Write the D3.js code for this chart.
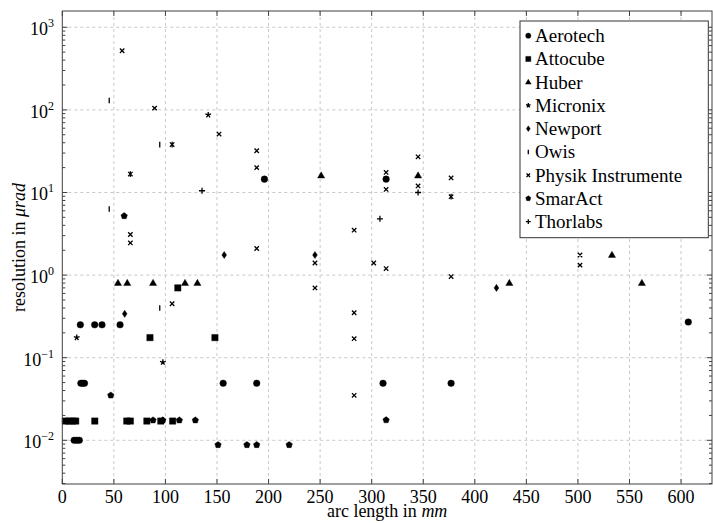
<!DOCTYPE html>
<html>
<head>
<meta charset="utf-8">
<script src="https://cdn.jsdelivr.net/npm/d3@7"></script>
<style>
body { margin: 0; background: #fff; }
svg { font-family: "Liberation Serif", "Times New Roman", serif; }
</style>
</head>
<body>
<script>

// arc length in mm, resolution in µrad
var manufacturers = ["Aerotech", "Attocube", "Huber", "Micronix", "Newport", "Owis", "Physik Instrumente", "SmarAct", "Thorlabs"];
var markTypes = ["circle", "square", "triangle", "star", "diamond", "bar", "x", "pentagon", "plus"];

var aerotech = [[17.5,0.25],[31.4,0.25],[38.5,0.25],[56,0.25],
	[18,0.049],[19.8,0.049],[21.5,0.049],[156,0.049],[188.5,0.049],[311,0.049],[377,0.049],
	[11.5,0.01],[14,0.01],[16.5,0.01],[196,14.5],[314,14.5],[607,0.27]];
var attocube = [[3,0.0171],[6.5,0.0171],[10,0.0171],[13,0.0171],[31.5,0.0171],[62.5,0.0171],[66,0.0171],
	[82,0.0171],[95.5,0.0171],[107,0.0171],[85,0.175],[148,0.175],[112,0.7]];
var huber = [[54,0.8],[63,0.8],[88,0.8],[119,0.8],[131,0.8],[251,16],[345,16],[433.5,0.8],[533,1.75],[562,0.8]];
var micronix = [[14,0.175],[97.5,0.088],[141.5,87]];
var newport = [[60.5,0.34],[157,1.75],[245,1.75],[421,0.7]];
var owis = [[45.5,130],[45.5,6.3],[94.5,38],[94.5,0.4],[66,16.7],[106.5,38],[377,8.9]];
var physik = [[58,520],[89.5,105],[152,51],[106.5,38],[66,16.7],[66,3.1],[66,2.45],[106.5,0.45],
	[188.5,32],[188.5,20],[188.5,2.1],[314,17.5],[314,10.9],[314,1.2],[345,27],[345,12],
	[377,15],[377,8.9],[377,0.96],[283,3.5],[283,0.35],[283,0.17],[283,0.035],
	[245,1.4],[245,0.7],[302,1.4],[502,1.75],[502,1.32]];
var smaract = [[60,5.2],[47,0.035],[88,0.0175],[97.5,0.0175],[113.5,0.0175],[129,0.0175],[314,0.0176],
	[151,0.0088],[179,0.0088],[188.5,0.0088],[220,0.0088]];
var thorlabs = [[135.5,10.5],[308,4.8],[345,10]];

var seriesData = [aerotech, attocube, huber, micronix, newport, owis, physik, smaract, thorlabs];

var xTicks = [0, 50, 100, 150, 200, 250, 300, 350, 400, 450, 500, 550, 600];
var yTicks = [1e-2, 1e-1, 1, 10, 100, 1000];
var yTickExp = ["\u22122", "\u22121", "0", "1", "2", "3"];

var width = 713, height = 523;
var pLeft = 62.3, pRight = 712, pTop = 11, pBottom = 484;

var x = d3.scaleLinear().domain([0, 630]).range([pLeft, pRight]);
var y = d3.scaleLog().domain([Math.pow(10, -2.529), Math.pow(10, 3.197)]).range([pBottom, pTop]);

var svg = d3.select("body").append("svg")
	.attr("width", width)
	.attr("height", height);

// grid
var grid = svg.append("g")
	.attr("stroke", "#c8c8c8")
	.attr("stroke-width", 1)
	.attr("stroke-dasharray", "3,3");
grid.selectAll(".gx").data(xTicks.slice(1)).enter().append("line")
	.attr("x1", function(d) { return x(d); })
	.attr("x2", function(d) { return x(d); })
	.attr("y1", pTop).attr("y2", pBottom);
grid.selectAll(".gy").data(yTicks).enter().append("line")
	.attr("x1", pLeft).attr("x2", pRight)
	.attr("y1", function(d) { return y(d); })
	.attr("y2", function(d) { return y(d); });

// mark shapes
var markPath = function(type, s) {
	var p = d3.path();
	if (type == "circle") {
		p.arc(0, 0, 3.3 * s, 0, 2 * Math.PI);
	} else if (type == "square") {
		p.rect(-3.2 * s, -3.2 * s, 6.4 * s, 6.4 * s);
	} else if (type == "triangle") {
		p.moveTo(0, -3.8 * s); p.lineTo(3.6 * s, 2.4 * s); p.lineTo(-3.6 * s, 2.4 * s); p.closePath();
	} else if (type == "diamond") {
		p.moveTo(0, -3.6 * s); p.lineTo(2.4 * s, 0); p.lineTo(0, 3.6 * s); p.lineTo(-2.4 * s, 0); p.closePath();
	} else if (type == "pentagon") {
		for (var i = 0; i < 5; i++) {
			var a = -Math.PI / 2 + i * 2 * Math.PI / 5;
			if (i == 0) p.moveTo(3.4 * s * Math.cos(a), 3.4 * s * Math.sin(a));
			else p.lineTo(3.4 * s * Math.cos(a), 3.4 * s * Math.sin(a));
		}
		p.closePath();
	} else if (type == "star") {
		for (var j = 0; j < 5; j++) {
			var b = -Math.PI / 2 + j * 2 * Math.PI / 5;
			p.moveTo(0, 0); p.lineTo(3 * s * Math.cos(b), 3 * s * Math.sin(b));
		}
	} else if (type == "bar") {
		p.moveTo(0, -2.8 * s); p.lineTo(0, 2.8 * s);
	} else if (type == "x") {
		p.moveTo(-2.2 * s, -2.2 * s); p.lineTo(2.2 * s, 2.2 * s);
		p.moveTo(-2.2 * s, 2.2 * s); p.lineTo(2.2 * s, -2.2 * s);
	} else if (type == "plus") {
		p.moveTo(-3 * s, 0); p.lineTo(3 * s, 0);
		p.moveTo(0, -3 * s); p.lineTo(0, 3 * s);
	}
	return p.toString();
};

var isFilled = function(type) {
	return ["circle", "square", "triangle", "diamond", "pentagon"].indexOf(type) >= 0;
};

var drawMarks = function(g, type, pts, s) {
	g.selectAll("path").data(pts).enter().append("path")
		.attr("transform", function(d) { return "translate(" + d[0] + "," + d[1] + ")"; })
		.attr("d", markPath(type, s))
		.attr("fill", isFilled(type) ? "#000" : "none")
		.attr("stroke", "#000")
		.attr("stroke-width", isFilled(type) ? 0.4 : 1.3);
};

var plot = svg.append("g");
for (var k = 0; k < seriesData.length; k++) {
	var pts = seriesData[k].map(function(d) { return [x(d[0]), y(d[1])]; });
	drawMarks(plot.append("g"), markTypes[k], pts, 1);
}

// frame and ticks
var axis = svg.append("g").attr("stroke", "#404040").attr("stroke-width", 1).attr("fill", "none");
axis.append("rect").attr("x", pLeft).attr("y", pTop).attr("width", pRight - pLeft).attr("height", pBottom - pTop);

axis.selectAll(".tx").data(xTicks).enter().append("path")
	.attr("d", function(d) { return "M" + x(d) + "," + pBottom + "v-5M" + x(d) + "," + pTop + "v5"; });

var minor = [];
for (var e = -3; e <= 3; e++) {
	for (var m = 2; m <= 9; m++) {
		var v = m * Math.pow(10, e);
		if (v > y.domain()[0] && v < y.domain()[1]) minor.push(v);
	}
}
axis.selectAll(".ty").data(yTicks).enter().append("path")
	.attr("d", function(d) { return "M" + pLeft + "," + y(d) + "h5M" + pRight + "," + y(d) + "h-5"; });
axis.selectAll(".tm").data(minor).enter().append("path")
	.attr("d", function(d) { return "M" + pLeft + "," + y(d) + "h3M" + pRight + "," + y(d) + "h-3"; });

// tick labels
svg.append("g").selectAll("text").data(xTicks).enter().append("text")
	.attr("x", function(d) { return x(d); })
	.attr("y", 502.7)
	.attr("text-anchor", "middle")
	.attr("font-size", 18)
	.text(function(d) { return d; });

var yl = svg.append("g").selectAll("text").data(yTicks).enter().append("text")
	.attr("x", 54)
	.attr("y", function(d) { return y(d) + 8; })
	.attr("text-anchor", "end")
	.attr("font-size", 18);
yl.append("tspan").text("10");
yl.append("tspan").attr("font-size", 12).attr("dy", -8).text(function(d, i) { return yTickExp[i]; });

// axis labels
var xl = svg.append("text")
	.attr("x", (pLeft + pRight) / 2)
	.attr("y", 517)
	.attr("text-anchor", "middle")
	.attr("font-size", 18);
xl.append("tspan").text("arc length in ");
xl.append("tspan").attr("font-style", "italic").text("mm");

var ylab = svg.append("text")
	.attr("transform", "translate(25," + ((pTop + pBottom) / 2) + ") rotate(-90)")
	.attr("text-anchor", "middle")
	.attr("font-size", 18);
ylab.append("tspan").text("resolution in ");
ylab.append("tspan").attr("font-style", "italic").text("\u03bcrad");

// legend
var legend = svg.append("g");
legend.append("rect")
	.attr("x", 520).attr("y", 21).attr("width", 188.3).attr("height", 216.7)
	.attr("fill", "#fff").attr("stroke", "#333").attr("stroke-width", 1);
for (var n = 0; n < manufacturers.length; n++) {
	var ly = 35.7 + n * 23.25;
	drawMarks(legend.append("g"), markTypes[n], [[528.3, ly]], 0.8);
	legend.append("text")
		.attr("x", 535).attr("y", ly + 6.3)
		.attr("font-size", 19)
		.text(manufacturers[n]);
}

</script>
</body>
</html>
